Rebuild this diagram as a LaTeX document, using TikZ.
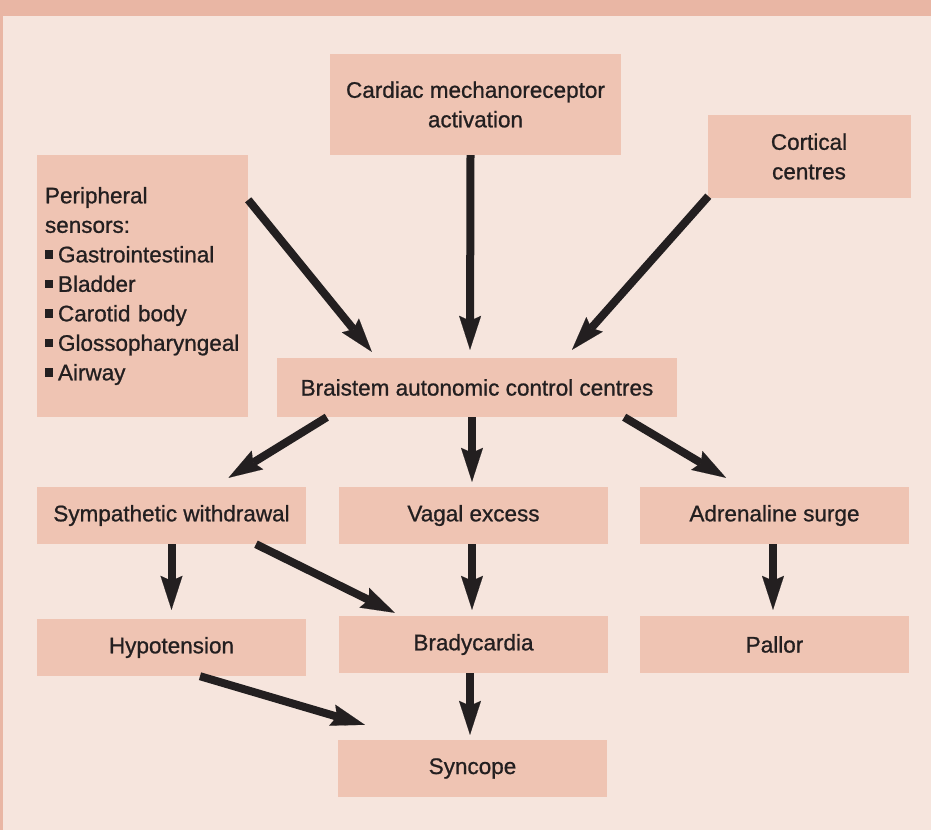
\documentclass[tikz,border=0pt]{standalone}
\usepackage{fontspec}
\setmainfont{Liberation Sans}[RawFeature={embolden=0.9}]
\usetikzlibrary{arrows.meta,calc}
\definecolor{bandc}{HTML}{E9B6A4}
\definecolor{bgc}{HTML}{F6E5DD}
\definecolor{boxc}{HTML}{EFC4B3}
\definecolor{inkc}{HTML}{231F20}
\newcommand{\sqbul}{\textcolor{inkc}{\rule[3.5pt]{8.5pt}{8.5pt}}\hspace{4.5pt}}
\begin{document}
\begin{tikzpicture}[x=1pt,y=-1pt,
 box/.style={fill=boxc, inner sep=0pt, align=center, text=inkc, font=\fontsize{22.5}{29.5}\selectfont},
 arr/.style={draw=inkc, line width=8pt, -{Stealth[length=34pt,width=22pt,inset=5pt,line width=0.1pt]}}]
\fill[bgc] (0,0) rectangle (931,830);
\useasboundingbox (0,0) rectangle (931,830);
\fill[bandc] (0,0) rectangle (931,16);
\fill[bandc] (0,0) rectangle (3,830);

\node[box, minimum width=291pt, minimum height=101pt] (card) at (475.5,104.5) {Cardiac mechanoreceptor\\activation};
\node[box, minimum width=203pt, minimum height=83pt] (cort) at (809,156.5) {Cortical\\centres};
\node[box, align=left, inner xsep=8pt, text width=195pt, minimum height=262pt] (periph) at (142.5,286)
 {Peripheral\\sensors:\\\sqbul Gastrointestinal\\\sqbul Bladder\\\sqbul Carotid body\\\sqbul Glossopharyngeal\\\sqbul Airway};
\node[box, minimum width=400pt, minimum height=59pt] (brain) at (477,387.5) {Braistem autonomic control centres};
\node[box, minimum width=269pt, minimum height=57pt] (symp) at (171.5,515.5) {Sympathetic withdrawal};
\node[box, minimum width=269pt, minimum height=57pt] (vagal) at (473.5,515.5) {Vagal excess};
\node[box, minimum width=269pt, minimum height=57pt] (adren) at (774.5,515.5) {Adrenaline surge};
\node[box, minimum width=269pt, minimum height=57pt] (hypo) at (171.5,647.5) {Hypotension};
\node[box, minimum width=269pt, minimum height=57pt] (brady) at (473.5,644.5) {Bradycardia};
\node[box, minimum width=269pt, minimum height=57pt] (pallor) at (774.5,644.5) {Pallor};
\node[box, minimum width=269pt, minimum height=57pt] (sync) at (472.5,768.5) {Syncope};

\draw[arr] ($(periph.north east)+(0,45)$) -- ($(brain.north west)+(95,-6)$);
\draw[arr] ($(card.south)+(-5,0)$) -- ($(brain.north)+(-7,-8)$);
\draw[arr] ($(cort.south west)+(1,-2)$) -- ($(brain.north)+(95,-8)$);
\draw[arr] ($(brain.south west)+(50,0)$) -- ($(symp.north)+(57,-9)$);
\draw[arr] ($(brain.south)+(-5,0)$) -- ($(vagal.north)+(-1.5,-5)$);
\draw[arr] ($(brain.south east)+(-53,0)$) -- ($(adren.north)+(-48.5,-9)$);
\draw[arr] (symp.south) -- ($(hypo.north)+(0,-9)$);
\draw[arr] ($(symp.south)+(84.5,0)$) -- ($(brady.north west)+(56,-3)$);
\draw[arr] ($(vagal.south)+(-1.5,0)$) -- ($(brady.north)+(-1.5,-6)$);
\draw[arr] ($(adren.south)+(-1.5,0)$) -- ($(pallor.north)+(-1.5,-6)$);
\draw[arr] ($(hypo.south)+(28.5,0)$) -- ($(sync.north west)+(27,-15)$);
\draw[arr] ($(brady.south)+(-3.5,0)$) -- ($(sync.north)+(-2.5,-5)$);
\end{tikzpicture}
\end{document}
